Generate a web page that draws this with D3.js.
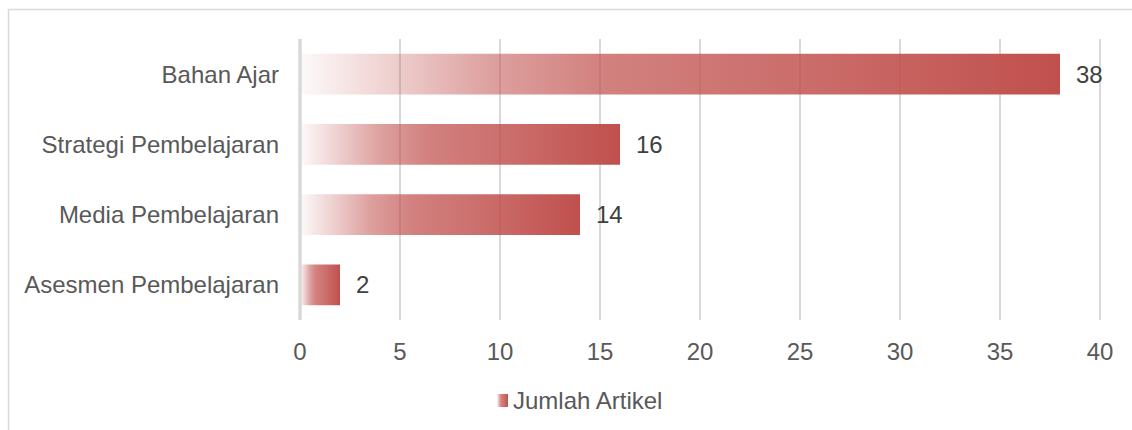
<!DOCTYPE html>
<html>
<head>
<meta charset="utf-8">
<script src="https://cdn.jsdelivr.net/npm/d3@7"></script>
<style>
  body { margin: 0; background: #fff; }
  svg { display: block; font-family: "Liberation Sans", Arial, sans-serif; }
</style>
</head>
<body>
<div id="chart"></div>
<script>
const categories = ['Bahan Ajar', 'Strategi Pembelajaran', 'Media Pembelajaran', 'Asesmen Pembelajaran']
const values = [38, 16, 14, 2]
const xTicks = [0, 5, 10, 15, 20, 25, 30, 35, 40]
const seriesName = 'Jumlah Artikel'

const width = 1132
const height = 430
const margin = { top: 39, right: 32, bottom: 110, left: 300 }
const fontSize = 24

const svg = d3.select('#chart').append('svg')
  .attr('width', width)
  .attr('height', height)

// chart frame (only top + left edges are visible in the crop)
svg.append('path')
  .attr('d', `M8.5,${height} V9.5 H${width}`)
  .attr('fill', 'none')
  .attr('stroke', '#d9d9d9')
  .attr('stroke-width', 1.5)

// gradient used for the bars, white -> red from left to right
const defs = svg.append('defs')
const grad = defs.append('linearGradient')
  .attr('id', 'barGrad')
  .attr('x1', 0).attr('x2', 1).attr('y1', 0).attr('y2', 0)
const stops = [[0, 0.03], [0.12, 0.27], [0.25, 0.54], [0.4, 0.72], [0.7, 0.85], [1, 1]]
stops.forEach(([o, a]) => {
  grad.append('stop')
    .attr('offset', o)
    .attr('stop-color', '#c0504d')
    .attr('stop-opacity', a)
})

const x = d3.scaleLinear()
  .domain([0, 40])
  .range([margin.left, width - margin.right])

const y = d3.scaleBand()
  .domain(categories)
  .range([margin.top, height - margin.bottom])
  .paddingInner(0.42)
  .paddingOuter(0.21)

// gridlines
svg.append('g')
  .selectAll('line')
  .data(xTicks.slice(1))
  .join('line')
  .attr('x1', (d) => x(d))
  .attr('x2', (d) => x(d))
  .attr('y1', margin.top)
  .attr('y2', height - margin.bottom)
  .attr('stroke', '#d9d9d9')
  .attr('stroke-width', 2)

// bars
svg.append('g')
  .selectAll('rect')
  .data(values)
  .join('rect')
  .attr('x', x(0))
  .attr('y', (d, i) => y(categories[i]))
  .attr('width', (d) => x(d) - x(0))
  .attr('height', y.bandwidth())
  .attr('fill', 'url(#barGrad)')

// zero axis line
svg.append('line')
  .attr('x1', x(0))
  .attr('x2', x(0))
  .attr('y1', margin.top)
  .attr('y2', height - margin.bottom)
  .attr('stroke', '#d9d9d9')
  .attr('stroke-width', 3.5)

// value labels
svg.append('g')
  .selectAll('text')
  .data(values)
  .join('text')
  .attr('x', (d) => x(d) + 16)
  .attr('y', (d, i) => y(categories[i]) + y.bandwidth() / 2)
  .attr('dy', '0.35em')
  .attr('font-size', fontSize)
  .attr('fill', '#404040')
  .text((d) => d)

// category labels
svg.append('g')
  .selectAll('text')
  .data(categories)
  .join('text')
  .attr('x', margin.left - 21)
  .attr('y', (d) => y(d) + y.bandwidth() / 2)
  .attr('dy', '0.35em')
  .attr('text-anchor', 'end')
  .attr('font-size', fontSize)
  .attr('fill', '#595959')
  .text((d) => d)

// x tick labels
svg.append('g')
  .selectAll('text')
  .data(xTicks)
  .join('text')
  .attr('x', (d) => x(d))
  .attr('y', 352)
  .attr('dy', '0.35em')
  .attr('text-anchor', 'middle')
  .attr('font-size', fontSize)
  .attr('fill', '#595959')
  .text((d) => d)

// legend
const legend = svg.append('g').attr('transform', 'translate(497,394)')
legend.append('rect')
  .attr('width', 11)
  .attr('height', 13)
  .attr('fill', 'url(#barGrad)')
legend.append('text')
  .attr('x', 16)
  .attr('y', 7)
  .attr('dy', '0.35em')
  .attr('font-size', fontSize)
  .attr('fill', '#595959')
  .text(seriesName)
</script>
</body>
</html>
